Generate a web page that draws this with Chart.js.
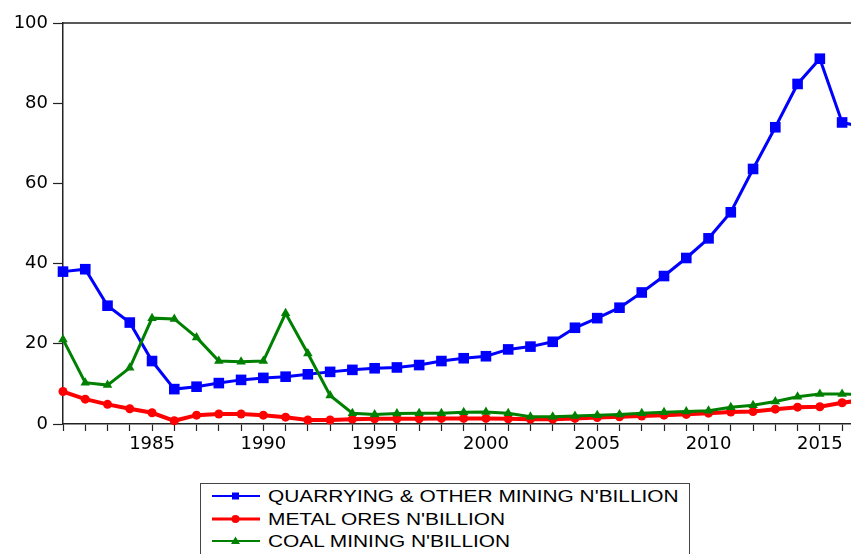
<!DOCTYPE html>
<html>
<head>
<meta charset="utf-8">
<script src="https://cdn.jsdelivr.net/npm/chart.js@4"></script>
<style>
  body { margin: 0; background: #fff; width: 851px; height: 554px; overflow: hidden; position: relative; }
  #grafico { position: absolute; left: 0; top: 0; }
  #leyenda { position: absolute; left: 200px; top: 483px; width: 490px; height: 90px; border: 1px solid #444; box-sizing: border-box; }
  .fila { position: absolute; left: 0; height: 22px; }
  .fila svg { position: absolute; left: 10px; top: 0; }
  .fila span { position: absolute; left: 67px; top: 0; line-height: 22px; font-family: "Liberation Sans", Arial, sans-serif; font-size: 16.5px; color: #000; white-space: nowrap; transform: scaleX(1.265); transform-origin: left center; }
</style>
</head>
<body>
<canvas id="grafico" width="851" height="470"></canvas>
<div id="leyenda"></div>
<script>
// datos (N'billion)
const years = [1981, 1982, 1983, 1984, 1985, 1986, 1987, 1988, 1989, 1990, 1991, 1992, 1993, 1994, 1995, 1996, 1997, 1998, 1999, 2000, 2001, 2002, 2003, 2004, 2005, 2006, 2007, 2008, 2009, 2010, 2011, 2012, 2013, 2014, 2015, 2016, 2017];
const quarrying = [38.0, 38.6, 29.5, 25.3, 15.7, 8.7, 9.3, 10.2, 11.0, 11.5, 11.8, 12.4, 13.0, 13.5, 13.9, 14.1, 14.7, 15.7, 16.4, 16.9, 18.6, 19.3, 20.5, 24.0, 26.4, 29.0, 32.8, 36.9, 41.4, 46.3, 52.8, 63.6, 74.0, 84.8, 91.1, 75.2, 74.0];
const metalOres = [8.1, 6.2, 4.9, 3.8, 2.8, 0.8, 2.2, 2.5, 2.5, 2.2, 1.7, 1.0, 1.0, 1.2, 1.3, 1.3, 1.3, 1.4, 1.4, 1.4, 1.3, 1.2, 1.2, 1.4, 1.6, 1.8, 2.0, 2.2, 2.4, 2.7, 3.0, 3.1, 3.7, 4.2, 4.3, 5.3, 6.0];
const coalMining = [21.1, 10.3, 9.7, 14.0, 26.4, 26.2, 21.6, 15.7, 15.5, 15.7, 27.6, 17.6, 7.1, 2.7, 2.4, 2.6, 2.7, 2.7, 2.9, 3.0, 2.7, 1.8, 1.8, 2.0, 2.2, 2.4, 2.7, 2.9, 3.1, 3.3, 4.2, 4.7, 5.6, 6.8, 7.5, 7.5, 7.3];
const seriesNames = ["QUARRYING & OTHER MINING N'BILLION", "METAL ORES N'BILLION", "COAL MINING N'BILLION"];
const yTicks = [0, 20, 40, 60, 80, 100];
const xLabelYears = [1985, 1990, 1995, 2000, 2005, 2010, 2015];

const estilos = [
  { color: '#0000ff', width: 3, point: 'rect', radius: 7.5, order: 3 },
  { color: '#ff0000', width: 4, point: 'circle', radius: 4.5, order: 2 },
  { color: '#008000', width: 3, point: 'triangle', radius: 5.5, order: 1 }
];
const valores = [quarrying, metalOres, coalMining];

const colorEje = '#222';
const fuenteTicks = { family: '"DejaVu Sans", sans-serif', size: 18 };

// linea superior del marco
const marcoSuperior = {
  id: 'marcoSuperior',
  afterDraw(chart) {
    const { ctx, chartArea } = chart;
    ctx.save();
    ctx.strokeStyle = colorEje;
    ctx.lineWidth = 1.5;
    ctx.beginPath();
    ctx.moveTo(chartArea.left, chartArea.top);
    ctx.lineTo(chartArea.right + 2, chartArea.top);
    ctx.stroke();
    ctx.restore();
  }
};

new Chart(document.getElementById('grafico').getContext('2d'), {
  type: 'line',
  data: {
    datasets: valores.map((serie, i) => ({
      label: seriesNames[i],
      data: serie.map((v, j) => ({ x: years[j], y: v })),
      borderColor: estilos[i].color,
      backgroundColor: estilos[i].color,
      borderWidth: estilos[i].width,
      pointStyle: estilos[i].point,
      pointRadius: estilos[i].radius,
      pointBorderWidth: 0,
      pointBackgroundColor: estilos[i].color,
      tension: 0,
      order: estilos[i].order,
      clip: { left: 12, top: 12, right: 0, bottom: 12 }
    }))
  },
  options: {
    responsive: false,
    animation: false,
    layout: { autoPadding: false, padding: { top: 23, right: 0, left: 0, bottom: 0 } },
    plugins: { legend: { display: false }, tooltip: { enabled: false } },
    scales: {
      x: {
        type: 'linear',
        min: 1981,
        max: 2016.4,
        afterBuildTicks: (scale) => {
          scale.ticks = years.filter(y => y <= 2016).map(y => ({ value: y }));
        },
        afterFit: (scale) => { scale.height = 46; },
        ticks: {
          autoSkip: false,
          maxRotation: 0,
          padding: 3,
          color: '#000',
          font: fuenteTicks,
          callback: (v) => xLabelYears.includes(v) ? String(v) : ''
        },
        grid: { drawOnChartArea: false, tickLength: 7, color: colorEje, tickWidth: 1.2 },
        border: { color: colorEje, width: 1.5 }
      },
      y: {
        min: 0,
        max: 100,
        afterBuildTicks: (scale) => {
          scale.ticks = yTicks.map(v => ({ value: v }));
        },
        afterFit: (scale) => { scale.width = 63; },
        ticks: { padding: 5, color: '#000', font: fuenteTicks },
        grid: { drawOnChartArea: false, tickLength: 10, color: colorEje, tickWidth: 1.2 },
        border: { color: colorEje, width: 1.5 }
      }
    }
  },
  plugins: [marcoSuperior]
});

// leyenda en HTML con caja
const leyenda = document.getElementById('leyenda');
seriesNames.forEach((nombre, i) => {
  const fila = document.createElement('div');
  fila.className = 'fila';
  fila.style.top = (1 + i * 22.5) + 'px';
  const c = estilos[i].color;
  let marca = '';
  if (estilos[i].point === 'rect') marca = `<rect x="21" y="7.5" width="7" height="7" fill="${c}"/>`;
  if (estilos[i].point === 'circle') marca = `<circle cx="24.5" cy="11" r="4" fill="${c}"/>`;
  if (estilos[i].point === 'triangle') marca = `<polygon points="24.5,6.5 29,14 20,14" fill="${c}"/>`;
  fila.innerHTML = `
    <svg width="50" height="22"><line x1="1" y1="11" x2="49" y2="11" stroke="${c}" stroke-width="${i === 1 ? 3 : 2}"/>${marca}</svg>
    <span>${nombre.replace('&', '&amp;')}</span>
  `;
  leyenda.appendChild(fila);
});
</script>
</body>
</html>
